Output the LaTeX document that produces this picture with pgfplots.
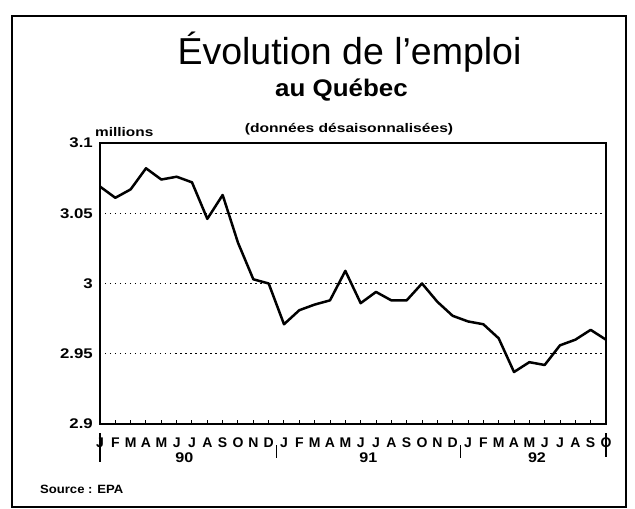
\documentclass[border=0pt]{standalone}
\usepackage{graphicx}
\usepackage{pgfplots}
\pgfplotsset{compat=1.18}
\usepackage{fontspec}
\setmainfont{Liberation Sans}
\newcommand{\wide}[2][1.2]{\scalebox{#1}[1]{#2}}
\begin{document}
\begin{tikzpicture}[x=1pt,y=1pt]
\begin{axis}[
  scale only axis,
  width=506pt, height=281pt,
  xmin=0, xmax=33, ymin=2.9, ymax=3.1,
  clip=false,
  axis line style={line width=1.6pt, black},
  xtick={0,...,33},
  xticklabels={J,F,M,A,M,J,J,A,S,O,N,D,J,F,M,A,M,J,J,A,S,O,N,D,J,F,M,A,M,J,J,A,S,O},
  xtick pos=left,
  tick align=inside,
  major tick length=4pt,
  xtick style={line width=1pt, black},
  xticklabel style={anchor=base, inner sep=0pt, yshift=-23pt, font=\bfseries\fontsize{14}{14}\selectfont},
  ytick={2.9,2.95,3,3.05,3.1},
  yticklabels={{\wide{2.9}},{\wide{2.95}},{\wide{3}},{\wide{3.05}},{\wide{3.1}}},
  ytick style={draw=none},
  yticklabel style={anchor=east, inner sep=0pt, xshift=-7pt, font=\bfseries\fontsize{14}{14}\selectfont},
  ymajorgrids,
  grid style={line width=1.2pt, black, dash pattern=on 1.5pt off 3.5pt},
]
\addplot[line width=2.5pt, line join=round, black] coordinates {
(0,3.069) (1,3.061) (2,3.067) (3,3.082) (4,3.074) (5,3.076) (6,3.072) (7,3.046)
(8,3.063) (9,3.029) (10,3.003) (11,3.000) (12,2.971) (13,2.981) (14,2.985) (15,2.988)
(16,3.009) (17,2.986) (18,2.994) (19,2.988) (20,2.988) (21,3.000) (22,2.987) (23,2.977)
(24,2.973) (25,2.971) (26,2.961) (27,2.937) (28,2.944) (29,2.942) (30,2.956) (31,2.960)
(32,2.967) (33,2.960)
};
\draw[line width=1.3pt] ([yshift=-9pt]axis cs:0,2.9) -- ([yshift=-38pt]axis cs:0,2.9);
\draw[line width=1.3pt] ([yshift=-21pt]axis cs:11.5,2.9) -- ([yshift=-34pt]axis cs:11.5,2.9);
\draw[line width=1.3pt] ([yshift=-21pt]axis cs:23.5,2.9) -- ([yshift=-34pt]axis cs:23.5,2.9);
\draw[line width=1.3pt] ([yshift=-9pt]axis cs:33,2.9) -- ([yshift=-33pt]axis cs:33,2.9);
\node[anchor=base, inner sep=0pt, font=\bfseries\fontsize{14}{14}\selectfont] at ([yshift=-38pt]axis cs:5.5,2.9) {\wide[1.15]{90}};
\node[anchor=base, inner sep=0pt, font=\bfseries\fontsize{14}{14}\selectfont] at ([yshift=-38pt]axis cs:17.5,2.9) {\wide[1.15]{91}};
\node[anchor=base, inner sep=0pt, font=\bfseries\fontsize{14}{14}\selectfont] at ([yshift=-38pt]axis cs:28.5,2.9) {\wide[1.15]{92}};
\coordinate (O) at (rel axis cs:0,0);
\end{axis}
\begin{scope}[shift={(O)}, xshift=-100pt, yshift=-85pt]
\path (0,0) rectangle (635,509);
\draw[line width=1.5pt] (12,2) rectangle (626,493);
\node[anchor=base, inner sep=0pt, font=\fontsize{37.5}{40}\selectfont] at (349.5,444) {Évolution de l'emploi};
\node[anchor=base, inner sep=0pt, font=\bfseries\fontsize{24}{26}\selectfont] at (341.5,412) {\wide[1.08]{au Québec}};
\node[anchor=base, inner sep=0pt, font=\bfseries\fontsize{12.5}{14}\selectfont] at (349,376) {\wide[1.25]{(données désaisonnalisées)}};
\node[anchor=base west, inner sep=0pt, font=\bfseries\fontsize{12.5}{14}\selectfont] at (95,372) {\wide[1.23]{millions}};
\node[anchor=base west, inner sep=0pt, font=\bfseries\fontsize{12}{14}\selectfont] at (40,16) {\wide[1.09]{Source : EPA}};
\end{scope}
\end{tikzpicture}
\end{document}
